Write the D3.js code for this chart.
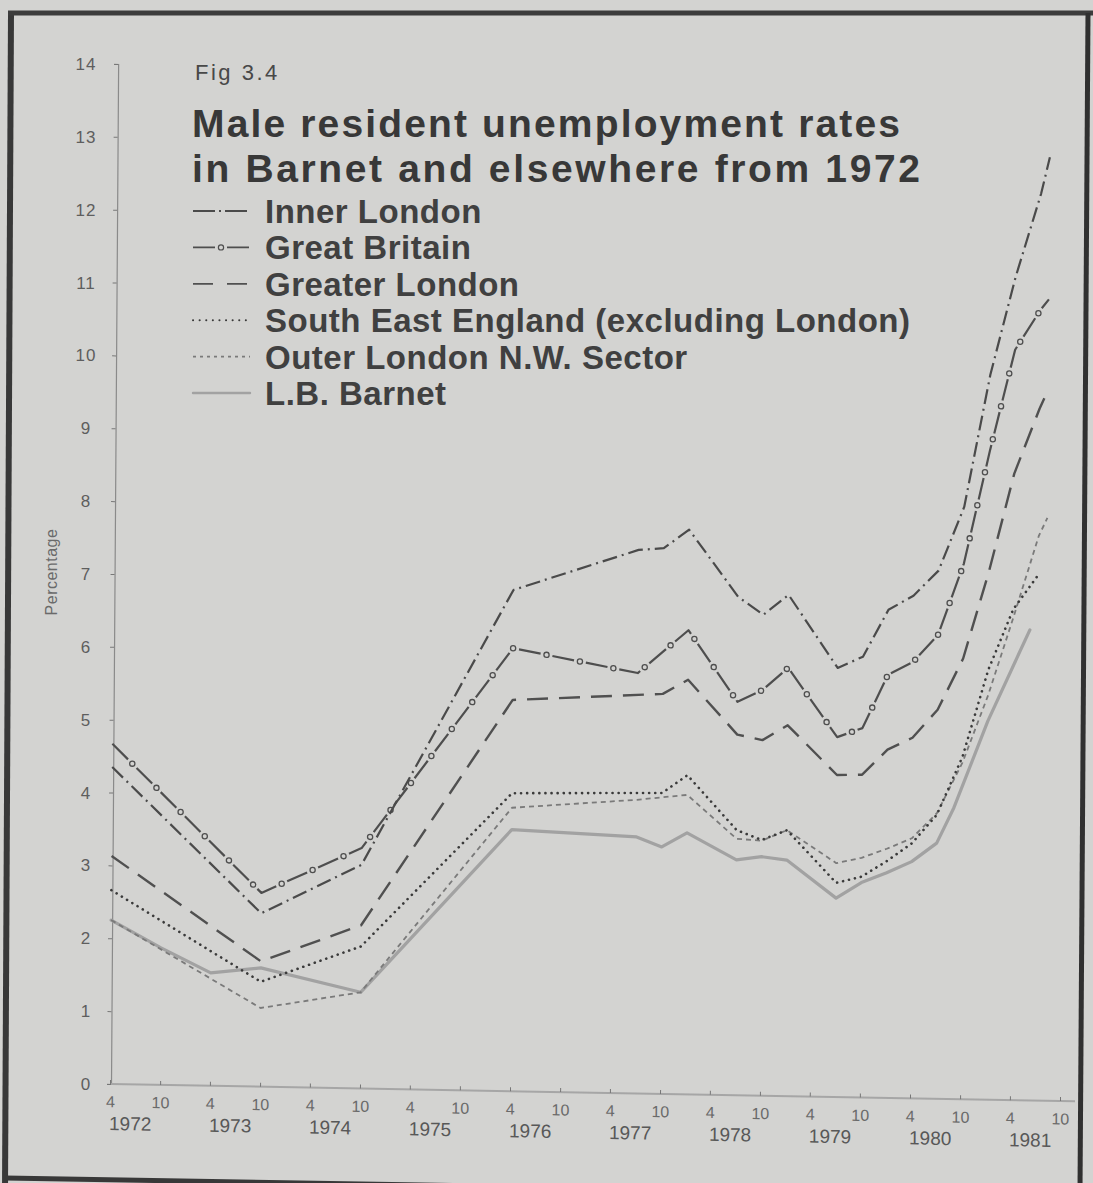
<!DOCTYPE html>
<html>
<head>
<meta charset="utf-8">
<script src="https://cdn.jsdelivr.net/npm/d3@7"></script>
<style>
body { margin: 0; background: #d2d2d0; }
svg { display: block; }
text { font-family: "Liberation Sans", Arial, sans-serif; }
</style>
</head>
<body>
<div id="chart"></div>
<script>
// values, [month, percent]
var innerLondon = [["1972-04",4.35],["1973-10",2.38],["1974-10",3.07],["1976-04",6.88],["1977-07",7.46],["1977-10",7.49],["1978-01",7.75],["1978-07",6.84],["1978-10",6.60],["1979-01",6.88],["1979-07",5.89],["1979-10",6.05],["1980-01",6.70],["1980-04",6.90],["1980-07",7.25],["1980-10",8.13],["1981-01",9.95],["1981-04",11.30],["1981-07",12.45],["1981-08",12.95]];
var greatBritain = [["1972-04",4.67],["1973-10",2.66],["1974-10",3.30],["1976-04",6.08],["1977-07",5.77],["1978-01",6.37],["1978-07",5.40],["1978-10",5.57],["1979-01",5.88],["1979-07",4.94],["1979-10",5.07],["1980-01",5.81],["1980-04",5.99],["1980-07",6.37],["1980-10",7.35],["1981-01",8.90],["1981-04",10.30],["1981-07",10.85],["1981-08",11.00]];
var greaterLondon = [["1972-04",3.13],["1973-10",1.72],["1974-10",2.24],["1976-04",5.37],["1977-10",5.49],["1978-01",5.69],["1978-07",4.95],["1978-10",4.88],["1979-01",5.09],["1979-07",4.42],["1979-10",4.43],["1980-01",4.78],["1980-04",4.95],["1980-07",5.34],["1980-10",6.05],["1981-01",7.25],["1981-04",8.60],["1981-07",9.50],["1981-08",9.76]];
var southEast = [["1972-04",2.66],["1973-10",1.44],["1974-10",1.95],["1976-04",4.09],["1977-10",4.13],["1978-01",4.38],["1978-07",3.64],["1978-10",3.51],["1979-01",3.65],["1979-07",2.94],["1979-10",3.03],["1980-01",3.25],["1980-04",3.50],["1980-07",3.90],["1980-10",4.70],["1981-01",5.90],["1981-04",6.74],["1981-07",7.22]];
var outerNW = [["1972-04",2.25],["1973-10",1.08],["1974-10",1.32],["1976-04",3.89],["1977-07",4.03],["1978-01",4.11],["1978-07",3.52],["1978-10",3.50],["1979-01",3.65],["1979-07",3.21],["1979-10",3.29],["1980-01",3.42],["1980-04",3.57],["1980-07",3.92],["1980-10",4.62],["1981-01",5.55],["1981-04",6.62],["1981-07",7.75],["1981-08",8.00]];
var barnet = [["1972-04",2.25],["1972-10",1.88],["1973-04",1.55],["1973-10",1.63],["1974-10",1.32],["1976-04",3.59],["1977-07",3.52],["1977-10",3.39],["1978-01",3.59],["1978-07",3.23],["1978-10",3.28],["1979-01",3.24],["1979-07",2.73],["1979-10",2.95],["1980-01",3.09],["1980-04",3.25],["1980-07",3.51],["1980-09",4.00],["1981-01",5.20],["1981-06",6.46]];

var seriesNames = ["Inner London", "Great Britain", "Greater London",
  "South East England (excluding London)", "Outer London N.W. Sector", "L.B. Barnet"];
var yTicks = [0,1,2,3,4,5,6,7,8,9,10,11,12,13,14];
var years = [1972,1973,1974,1975,1976,1977,1978,1979,1980,1981];

var series = [innerLondon, greatBritain, greaterLondon, southEast, outerNW, barnet];
var styles = [
  {stroke: "#4a4a4a", width: 2.2, dash: "15 5 2 5", cap: "butt"},
  {stroke: "#4e4e4e", width: 2.2, dash: "22 12", cap: "butt", rings: true},
  {stroke: "#505050", width: 2.4, dash: "21 11", cap: "butt"},
  {stroke: "#3a3a3a", width: 2.6, dash: "0.1 6", cap: "round"},
  {stroke: "#7a7a7a", width: 1.8, dash: "5 4", cap: "butt"},
  {stroke: "#a2a2a2", width: 3.2, dash: null, cap: "round"}
];

var width = 1093, height = 1183,
    ox = 111, oy = 1084;

var parse = d3.timeParse("%Y-%m");

var svg = d3.select("#chart").append("svg")
    .attr("width", width)
    .attr("height", height);

svg.append("rect").attr("width", width).attr("height", height).attr("fill", "#d3d3d1");

// frame of the printed page
svg.append("path").attr("d", "M11,13 L5,1190").attr("stroke", "#383838").attr("stroke-width", 6);
svg.append("path").attr("d", "M8,13 L1093,13").attr("stroke", "#3c3c3c").attr("stroke-width", 5);
svg.append("path").attr("d", "M1088,13 L1080,1190").attr("stroke", "#303030").attr("stroke-width", 5);
svg.append("path").attr("d", "M5,1178 L1080,1196").attr("stroke", "#383838").attr("stroke-width", 5);

var x = d3.scaleTime()
    .domain([new Date(1972, 3, 1), new Date(1981, 9, 1)])
    .range([110, 1060]);

var y = d3.scaleLinear()
    .domain([0, 14])
    .range([oy, 64]);

// the scan is slightly skewed
var plot = svg.append("g")
    .attr("transform", "translate(" + ox + "," + oy + ") matrix(1,0.018,-0.007,1,0,0) translate(" + (-ox) + "," + (-oy) + ")");

var yAxis = plot.append("g")
    .attr("transform", "translate(" + ox + ",0)")
    .call(d3.axisLeft(y).tickValues(yTicks).tickSize(4).tickFormat(""));
yAxis.select(".domain").attr("stroke", "#8a8a8a").attr("stroke-width", 1.2);
yAxis.selectAll(".tick line").attr("stroke", "#777");

// April and October of every year
var monthTicks = d3.timeMonth.range(new Date(1972, 3, 1), new Date(1981, 10, 1), 6);

var xAxis = plot.append("g")
    .attr("transform", "translate(0," + oy + ")")
    .call(d3.axisBottom(x).tickValues(monthTicks).tickSize(-4).tickPadding(12).tickFormat(d3.timeFormat("%-m")));
xAxis.select(".domain").attr("stroke", "#a6a6a6").attr("stroke-width", 2).attr("d", "M" + ox + ",0H1075");
xAxis.selectAll(".tick line").attr("stroke", "#777");
xAxis.selectAll(".tick text")
    .attr("fill", "#6a6a6a")
    .style("font-size", "16px")
    .style("font-family", "'Liberation Sans', Arial, sans-serif");

plot.selectAll(".year")
    .data(years)
    .enter().append("text")
    .attr("class", "year")
    .attr("x", function(d) { return x(new Date(d, 5, 15)); })
    .attr("y", oy + 46)
    .attr("text-anchor", "middle")
    .attr("fill", "#585858")
    .style("font-size", "19px")
    .text(function(d) { return d; });

var line = d3.line()
    .x(function(d) { return x(parse(d[0])); })
    .y(function(d) { return y(d[1]); });

// Barnet first so the darker lines sit on top
[5, 4, 3, 2, 1, 0].forEach(function(i) {
    var s = styles[i];
    var p = plot.append("path")
        .datum(series[i])
        .attr("d", line)
        .attr("fill", "none")
        .attr("stroke", s.stroke)
        .attr("stroke-width", s.width)
        .attr("stroke-linecap", s.cap)
        .attr("stroke-linejoin", "round")
        .attr("stroke-dasharray", s.dash);
    if (s.rings) {
        var node = p.node(), len = node.getTotalLength();
        var pts = d3.range(28, len, 34).map(function(l) { return node.getPointAtLength(l); });
        plot.selectAll(".ring").data(pts).enter().append("circle")
            .attr("class", "ring")
            .attr("cx", function(d) { return d.x; })
            .attr("cy", function(d) { return d.y; })
            .attr("r", 2.6)
            .attr("fill", "#d3d3d1")
            .attr("stroke", s.stroke)
            .attr("stroke-width", 1.3);
    }
});

// y tick labels and axis title
svg.selectAll(".ylab")
    .data(yTicks)
    .enter().append("text")
    .attr("class", "ylab")
    .attr("x", 86)
    .attr("y", function(d) { return y(d) + 6; })
    .attr("text-anchor", "middle")
    .attr("fill", "#5e5e5e")
    .style("font-size", "17px")
    .style("letter-spacing", "1px")
    .text(function(d) { return d; });

svg.append("text")
    .attr("transform", "translate(57,572) rotate(-90)")
    .attr("text-anchor", "middle")
    .attr("fill", "#6a6a6a")
    .style("font-size", "16px")
    .style("letter-spacing", "0.5px")
    .text("Percentage");

// titles
svg.append("text")
    .attr("x", 195).attr("y", 80)
    .attr("fill", "#484848")
    .style("font-size", "22px")
    .style("letter-spacing", "2.5px")
    .text("Fig 3.4");

var titleLines = ["Male resident unemployment rates", "in Barnet and elsewhere from 1972"];
var titleWidths = [708, 728];
svg.selectAll(".title")
    .data(titleLines)
    .enter().append("text")
    .attr("class", "title")
    .attr("x", 192)
    .attr("y", function(d, i) { return 137 + i * 45; })
    .attr("textLength", function(d, i) { return titleWidths[i]; })
    .attr("fill", "#383838")
    .style("font-size", "39px")
    .style("font-weight", "bold")
    .text(function(d) { return d; });

// legend
var legend = svg.selectAll(".legend")
    .data(seriesNames)
    .enter().append("g")
    .attr("class", "legend")
    .attr("transform", function(d, i) { return "translate(0," + (223 + i * 36.4) + ")"; });

legend.append("text")
    .attr("x", 265)
    .attr("fill", "#404040")
    .style("font-size", "33px")
    .style("font-weight", "bold")
    .style("letter-spacing", "0.5px")
    .text(function(d) { return d; });

var legendDash = ["22 4 2 4", "22 12", "20 14", "0.1 6.5", "3 4", null];
legend.append("line")
    .attr("x1", 193).attr("x2", 250)
    .attr("y1", -12).attr("y2", -12)
    .attr("stroke", function(d, i) { return styles[i].stroke; })
    .attr("stroke-width", function(d, i) { return i == 5 ? 2.4 : (i == 3 ? 2 : 1.8); })
    .attr("stroke-linecap", function(d, i) { return styles[i].cap; })
    .attr("stroke-dasharray", function(d, i) { return legendDash[i]; });

legend.filter(function(d, i) { return i == 1; })
    .append("circle")
    .attr("cx", 221).attr("cy", -12).attr("r", 2.6)
    .attr("fill", "#d3d3d1")
    .attr("stroke", styles[1].stroke)
    .attr("stroke-width", 1.2);
</script>
</body>
</html>
